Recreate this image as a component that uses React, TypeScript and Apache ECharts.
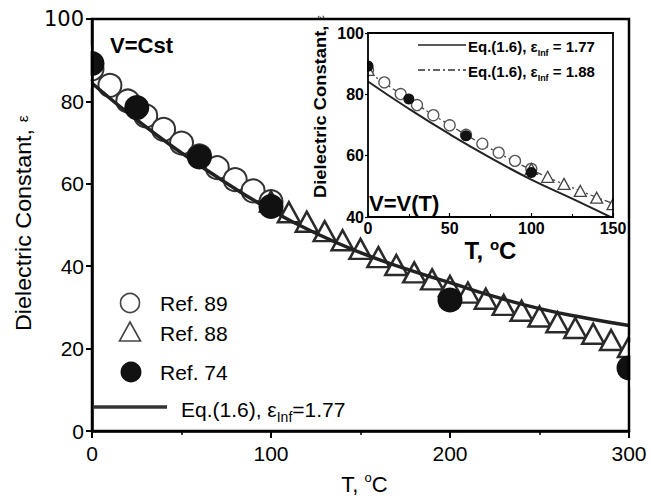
import React, { useEffect, useRef } from "react";
import * as echarts from "echarts";

// ---- Main panel data (V = Cst) ----
const ref89T = [0, 10, 20, 30, 40, 50, 60, 70, 80, 90, 100];
const ref89Eps = [87.9, 83.9, 80.1, 76.5, 73.2, 69.9, 66.8, 63.9, 61.0, 58.3, 55.7];

const ref88T = [100, 110, 120, 130, 140, 150, 160, 170, 180, 190, 200, 210, 220, 230, 240, 250, 260, 270, 280, 290, 300];
const ref88Eps = [55.7, 53.1, 50.8, 48.5, 46.3, 44.2, 42.2, 40.3, 38.5, 36.8, 35.2, 33.6, 32.1, 30.6, 29.2, 27.8, 26.4, 25.0, 23.6, 22.1, 20.4];

const ref74T = [0, 25, 60, 100, 200, 300];
const ref74Eps = [89.2, 78.5, 66.5, 54.5, 31.8, 15.3];

const eqT = [0, 25, 50, 75, 100, 125, 150, 175, 200, 225, 250, 275, 300];
const eqEps = [84.4, 75.5, 67.5, 60.2, 53.6, 48.0, 43.3, 39.4, 36.0, 32.6, 29.7, 27.5, 25.6];

// ---- Inset data (V = V(T)) ----
const inRef88T = [0, 100, 110, 120, 130, 140, 150];
const inRef88Eps = [88.0, 55.7, 53.1, 50.8, 48.5, 46.3, 44.2];

const inEq177T = [0, 25, 50, 75, 100, 125, 150];
const inEq177Eps = [84.2, 75.3, 67.0, 59.3, 52.2, 46.0, 39.6];

const inEq188T = [0, 25, 50, 75, 100, 125, 150];
const inEq188Eps = [87.3, 78.4, 70.0, 62.3, 55.4, 49.6, 44.4];

const xTicksMain = [0, 100, 200, 300];
const yTicksMain = [0, 20, 40, 60, 80, 100];

const pairs = (xs: number[], ys: number[]) => xs.map((x, i) => [x, ys[i]]);

const FONT = "'Liberation Sans', Arial, Helvetica, sans-serif";

export default function App() {
  const ref = useRef<HTMLDivElement>(null);

  useEffect(() => {
    if (!ref.current) return;
    const chart = echarts.init(ref.current, undefined, { renderer: "svg" });

    const subRich = (size: number, subSize: number, lh: number, bold: boolean) => ({
      t: { fontSize: size, fontWeight: bold ? "bold" : "normal", fontFamily: FONT, fill: "#000", color: "#000", lineHeight: lh, verticalAlign: "middle" },
      s: { fontSize: subSize, fontWeight: bold ? "bold" : "normal", fontFamily: FONT, fill: "#000", color: "#000", verticalAlign: "bottom" },
    });
    const supRich = (size: number, supSize: number, lh: number, bold: boolean) => ({
      t: { fontSize: size, fontWeight: bold ? "bold" : "normal", fontFamily: FONT, fill: "#000", color: "#000", lineHeight: lh, verticalAlign: "middle" },
      s: { fontSize: supSize, fontWeight: bold ? "bold" : "normal", fontFamily: FONT, fill: "#000", color: "#000", verticalAlign: "top" },
    });

    const frameAxis = { show: true, axisLine: { show: true, onZero: false, lineStyle: { color: "#000", width: 1.8 } }, axisTick: { show: false }, axisLabel: { show: false }, splitLine: { show: false }, z: 10 };

    const option: any = {
      animation: false,
      backgroundColor: "#fff",
      textStyle: { fontFamily: FONT, color: "#000" },
      grid: [
        { left: 92, right: 22, top: 19, bottom: 66, show: true, borderColor: "#000", borderWidth: 2.5, backgroundColor: "transparent", z: 6 },
        { left: 368, right: 38, top: 33, bottom: 283, show: true, borderColor: "#000", borderWidth: 0, backgroundColor: "#fff", z: 5.5 },
      ],
      xAxis: [
        {
          gridIndex: 0, type: "value", min: xTicksMain[0], max: xTicksMain[xTicksMain.length - 1], interval: 100, z: 10,
          axisLine: { show: true, onZero: false, lineStyle: { color: "#000", width: 2.5 } },
          axisTick: { show: true, inside: false, length: 7, lineStyle: { width: 2, color: "#000" } },
          minorTick: { show: true, splitNumber: 2, length: 4, lineStyle: { width: 1.5, color: "#000" } },
          splitLine: { show: false },
          axisLabel: { fontSize: 21, color: "#000", margin: 12, fontFamily: FONT },
          name: "{t|T, }{s|o}{t|C}", nameLocation: "middle", nameGap: 40,
          nameTextStyle: { padding: [0, 0, 0, 8], rich: supRich(22, 13, 26, false) },
        },
        {
          gridIndex: 1, type: "value", min: 0, max: 150, interval: 50, z: 10,
          axisLine: { show: true, onZero: false, lineStyle: { color: "#000", width: 1.8 } },
          axisTick: { show: true, inside: true, length: 4, lineStyle: { width: 1.2, color: "#000" } },
          minorTick: { show: true, splitNumber: 2, length: 3, lineStyle: { width: 1, color: "#000" } },
          splitLine: { show: false },
          axisLabel: { fontSize: 16, fontWeight: "bold", color: "#000", margin: 3, fontFamily: FONT },
          name: "{t|T, }{s|o}{t|C}", nameLocation: "middle", nameGap: 5,
          nameTextStyle: { padding: [0, 0, 0, 0], rich: supRich(24, 15, 27, true) },
        },
        { gridIndex: 1, type: "value", min: 0, max: 150, position: "top", ...frameAxis },
      ],
      yAxis: [
        {
          gridIndex: 0, type: "value", min: yTicksMain[0], max: yTicksMain[yTicksMain.length - 1], interval: 20, z: 10,
          axisLine: { show: true, onZero: false, lineStyle: { color: "#000", width: 2.5 } },
          axisTick: { show: true, inside: false, length: 6, lineStyle: { width: 2, color: "#000" } },
          splitLine: { show: false },
          axisLabel: {
            fontSize: 21, color: "#000", margin: 8, fontFamily: FONT,
            formatter: (v: number) => (v === 100 ? "{w|100}" : String(v)),
            rich: { w: { fontSize: 21, fontFamily: "'DejaVu Sans', sans-serif", color: "#000" } },
          },
        },
        {
          gridIndex: 1, type: "value", min: 40, max: 100, interval: 20, z: 10,
          axisLine: { show: true, onZero: false, lineStyle: { color: "#000", width: 1.8 } },
          axisTick: { show: true, inside: false, length: 3, lineStyle: { width: 1.2, color: "#000" } },
          splitLine: { show: false },
          axisLabel: { fontSize: 16, fontWeight: "bold", color: "#000", margin: 4, fontFamily: FONT },
        },
        { gridIndex: 1, type: "value", min: 40, max: 100, position: "right", ...frameAxis },
      ],
      series: [
        {
          type: "scatter", xAxisIndex: 0, yAxisIndex: 0, symbol: "circle", symbolSize: 23, z: 2,
          itemStyle: { color: "#fff", borderColor: "#333", borderWidth: 2, opacity: 1 },
          data: pairs(ref89T, ref89Eps),
        },
        {
          type: "scatter", xAxisIndex: 0, yAxisIndex: 0, symbol: "triangle", symbolSize: [22, 20], z: 3,
          itemStyle: { color: "#fff", borderColor: "#2a2a2a", borderWidth: 2.5, opacity: 1 },
          data: pairs(ref88T, ref88Eps),
        },
        {
          type: "line", xAxisIndex: 0, yAxisIndex: 0, smooth: true, showSymbol: false, z: 4,
          lineStyle: { color: "#222", width: 3.5 },
          data: pairs(eqT, eqEps),
        },
        {
          type: "scatter", xAxisIndex: 0, yAxisIndex: 0, symbol: "circle", symbolSize: 25, z: 5,
          itemStyle: { color: "#111", opacity: 1 },
          data: pairs(ref74T, ref74Eps),
        },
        // inset
        {
          type: "line", xAxisIndex: 1, yAxisIndex: 1, smooth: true, showSymbol: false, z: 7,
          lineStyle: { color: "#222", width: 2 },
          data: pairs(inEq177T, inEq177Eps),
        },
        {
          type: "line", xAxisIndex: 1, yAxisIndex: 1, smooth: true, showSymbol: false, z: 7,
          lineStyle: { color: "#444", width: 1.3, type: [7, 3, 2, 3] },
          data: pairs(inEq188T, inEq188Eps),
        },
        {
          type: "scatter", xAxisIndex: 1, yAxisIndex: 1, symbol: "circle", symbolSize: 11, z: 8,
          itemStyle: { color: "#fff", borderColor: "#555", borderWidth: 1.3, opacity: 1 },
          data: pairs(ref89T, ref89Eps),
        },
        {
          type: "scatter", xAxisIndex: 1, yAxisIndex: 1, symbol: "triangle", symbolSize: [12, 11], z: 8,
          itemStyle: { color: "#fff", borderColor: "#444", borderWidth: 1.3, opacity: 1 },
          data: pairs(inRef88T, inRef88Eps),
        },
        {
          type: "scatter", xAxisIndex: 1, yAxisIndex: 1, symbol: "circle", symbolSize: 11, z: 9,
          itemStyle: { color: "#111", opacity: 1 },
          data: pairs(ref74T, ref74Eps),
        },
      ],
      graphic: [
        // white masks that clip markers sitting on the frame edges
        { type: "rect", z: 6, shape: { x: 62, y: 46, width: 28.6, height: 42 }, style: { fill: "#fff" } },
        { type: "rect", z: 6, shape: { x: 630.4, y: 335, width: 20, height: 52 }, style: { fill: "#fff" } },
        { type: "rect", z: 9.5, shape: { x: 355, y: 57, width: 12, height: 24 }, style: { fill: "#fff" } },
        { type: "rect", z: 9.5, shape: { x: 614, y: 195, width: 12, height: 19 }, style: { fill: "#fff" } },
        // y-axis names
        {
          type: "text", z: 20, x: 23, y: 331, rotation: Math.PI / 2, scaleX: 1.06,
          style: { text: "{t|Dielectric Constant, }{e|\u03b5}", align: "left", verticalAlign: "middle",
            rich: { t: { fontSize: 22, fontFamily: FONT, fill: "#000" }, e: { fontSize: 15, fontFamily: FONT, fill: "#000" } } },
        },
        {
          type: "text", z: 20, x: 320, y: 198, rotation: Math.PI / 2, scaleX: 1.08,
          style: { text: "{t|Dielectric Constant, }{e|\u03b5}", align: "left", verticalAlign: "middle",
            rich: { t: { fontSize: 17, fontWeight: "bold", fontFamily: FONT, fill: "#000" }, e: { fontSize: 11, fontFamily: FONT, fill: "#000" } } },
        },
        { type: "text", left: 110, top: 34, z: 20, style: { text: "V=Cst", font: `bold 22px ${FONT}`, fill: "#000" } },
        { type: "text", left: 369, top: 192, z: 20, style: { text: "V=V(T)", font: `bold 22px ${FONT}`, fill: "#000" } },
        // main legend
        { type: "circle", z: 20, shape: { cx: 130, cy: 303, r: 9.5 }, style: { fill: "#fff", stroke: "#444", lineWidth: 1.6 } },
        { type: "polygon", z: 20, shape: { points: [[130, 322], [119.5, 341], [140.5, 341]] }, style: { fill: "#fff", stroke: "#444", lineWidth: 1.6 } },
        { type: "circle", z: 20, shape: { cx: 131, cy: 372, r: 10.5 }, style: { fill: "#111" } },
        { type: "line", z: 20, shape: { x1: 93, y1: 407, x2: 167, y2: 407 }, style: { stroke: "#333", lineWidth: 3.5 } },
        { type: "text", z: 20, x: 160, y: 303, style: { text: "Ref. 89", font: `21px ${FONT}`, fill: "#000", verticalAlign: "middle" } },
        { type: "text", z: 20, x: 160, y: 333, style: { text: "Ref. 88", font: `21px ${FONT}`, fill: "#000", verticalAlign: "middle" } },
        { type: "text", z: 20, x: 160, y: 372, style: { text: "Ref. 74", font: `21px ${FONT}`, fill: "#000", verticalAlign: "middle" } },
        {
          type: "text", z: 20, x: 181, y: 409,
          style: { text: "{t|Eq.(1.6), \u03b5}{s|Inf}{t|=1.77}", verticalAlign: "middle", rich: subRich(21, 14, 30, false) },
        },
        // inset legend
        { type: "line", z: 20, shape: { x1: 418, y1: 45, x2: 466, y2: 45 }, style: { stroke: "#222", lineWidth: 1.6 } },
        { type: "line", z: 20, shape: { x1: 418, y1: 70, x2: 466, y2: 70 }, style: { stroke: "#333", lineWidth: 1.3, lineDash: [7, 3, 2, 3] } },
        {
          type: "text", z: 20, x: 468, y: 46,
          style: { text: "{t|Eq.(1.6), \u03b5}{s|Inf}{t| = 1.77}", verticalAlign: "middle", rich: subRich(15, 9, 22, true) },
        },
        {
          type: "text", z: 20, x: 468, y: 71,
          style: { text: "{t|Eq.(1.6), \u03b5}{s|Inf}{t| = 1.88}", verticalAlign: "middle", rich: subRich(15, 9, 22, true) },
        },
      ],
    };

    chart.setOption(option);
    return () => chart.dispose();
  }, []);

  return <div ref={ref} style={{ width: 651, height: 500, position: "absolute", left: 0, top: 0 }} />;
}
